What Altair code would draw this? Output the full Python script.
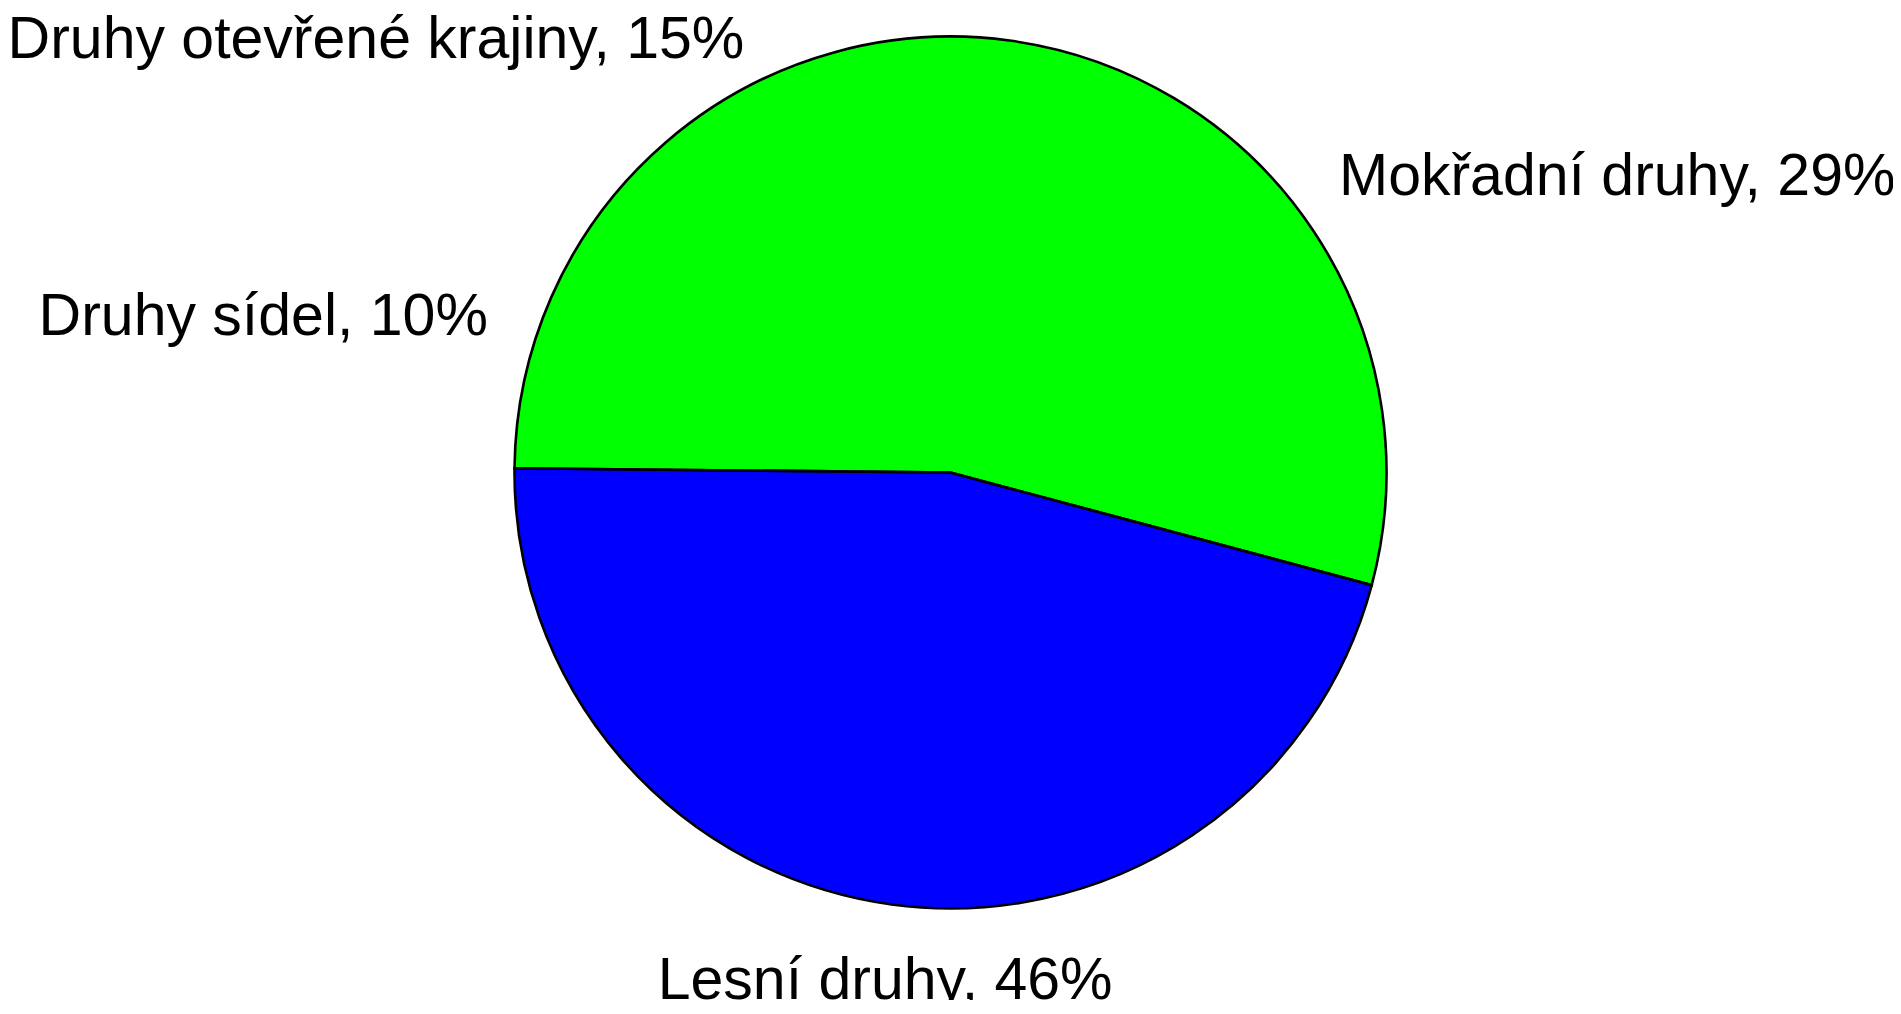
import math
import altair as alt
import pandas as pd

# Data
categories = ["Lesní druhy", "Druhy sídel", "Druhy otevřené krajiny", "Mokřadní druhy"]
values = [46, 10, 15, 29]
colors = ["#0000FF", "#00FF00", "#00FF00", "#00FF00"]

df = pd.DataFrame({
    "category": categories,
    "value": values,
    "color": colors,
    "idx": list(range(len(categories))),
})
df["label"] = [f"{c}, {v}%" for c, v in zip(categories, values)]

total = float(sum(values))
start_deg = 104.96
start = math.radians(start_deg)
theta_scale = alt.Scale(domain=[0, total], range=[start, start + 2 * math.pi])

R = 436
FONT = "Liberation Sans"
FS = 59

base = alt.Chart(df)

fill_layer = base.mark_arc(radius=R, strokeWidth=1).encode(
    theta=alt.Theta("value:Q", stack=True, scale=theta_scale),
    order=alt.Order("idx:Q"),
    fill=alt.Color("color:N", scale=None),
    stroke=alt.Color("color:N", scale=None),
)

outline_layer = base.transform_aggregate(
    value="sum(value)", idx="min(idx)", groupby=["color"]
).mark_arc(radius=R, fillOpacity=0, stroke="black", strokeWidth=2.6).encode(
    theta=alt.Theta("value:Q", stack=True, scale=theta_scale),
    order=alt.Order("idx:Q"),
)

lab = base.transform_window(
    cum="sum(value)", sort=[alt.SortField("idx")], frame=[None, 0]
).transform_calculate(
    mid="datum.cum - datum.value / 2"
).transform_calculate(
    ang=f"({start_deg} + datum.mid / {total} * 360) % 360"
)

def text_layer(filt, align, baseline, radius):
    return lab.transform_filter(filt).mark_text(
        radius=radius, align=align, baseline=baseline,
        font=FONT, fontSize=FS, color="black"
    ).encode(
        theta=alt.Theta("mid:Q", stack=False, scale=theta_scale),
        text="label:N",
    )

right_txt = text_layer("datum.ang < 150", "left", "middle", 488)
left_txt = text_layer("datum.ang > 210 && datum.ang < 300", "right", "middle", 488)
upleft_txt = text_layer("datum.ang >= 300", "right", "alphabetic", 463)
bottom_txt = text_layer("datum.ang >= 150 && datum.ang <= 210", "center", "top", 484)

chart = alt.layer(fill_layer, outline_layer, right_txt, left_txt, upleft_txt, bottom_txt).properties(
    width=1885, height=929,
    autosize=alt.AutoSizeParams(type="none"),
    padding={"left": 0, "top": 0, "right": 0, "bottom": 63},
).configure_view(stroke=None)

chart.save("out.html", embed_options={"renderer": "svg", "actions": False})
